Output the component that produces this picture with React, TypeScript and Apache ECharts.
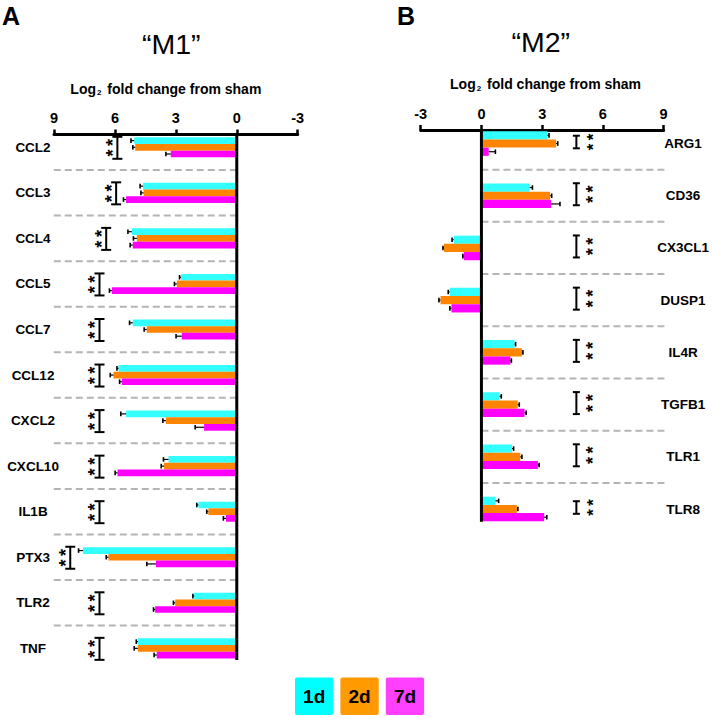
import React, { useEffect, useRef } from "react";
import * as echarts from "echarts";

// ---------- data ----------
const m1Genes = ["CCL2", "CCL3", "CCL4", "CCL5", "CCL7", "CCL12", "CXCL2", "CXCL10", "IL1B", "PTX3", "TLR2", "TNF"];
const m1Day1 = [5.05, 4.62, 5.17, 2.74, 5.12, 5.82, 5.45, 3.36, 1.89, 7.57, 2.1, 4.87];
const m1Day1Err = [0.16, 0.14, 0.19, 0.08, 0.16, 0.08, 0.26, 0.25, 0.08, 0.22, 0.06, 0.08];
const m1Day2 = [5.0, 4.59, 4.92, 2.95, 4.43, 6.07, 3.49, 3.58, 1.4, 6.32, 3.03, 4.87];
const m1Day2Err = [0.12, 0.13, 0.17, 0.12, 0.13, 0.16, 0.15, 0.14, 0.08, 0.11, 0.09, 0.18];
const m1Day7 = [3.25, 5.45, 5.12, 6.15, 2.71, 5.66, 1.61, 5.87, 0.53, 3.98, 4.02, 3.94];
const m1Day7Err = [0.24, 0.13, 0.13, 0.12, 0.28, 0.11, 0.44, 0.12, 0.13, 0.45, 0.08, 0.13];
const m1Bracket = [5.88, 5.94, 6.43, 6.76, 6.76, 6.76, 6.76, 6.76, 6.76, 8.2, 6.76, 6.76];

const m2Genes = ["ARG1", "CD36", "CX3CL1", "DUSP1", "IL4R", "TGFB1", "TLR1", "TLR8"];
const m2Day1 = [3.26, 2.38, -1.36, -1.57, 1.64, 0.9, 1.51, 0.69];
const m2Day1Err = [0.08, 0.14, 0.09, 0.07, 0.05, 0.08, 0.08, 0.16];
const m2Day2 = [3.69, 3.39, -1.85, -2.02, 2.0, 1.79, 1.92, 1.75];
const m2Day2Err = [0.08, 0.08, 0.05, 0.08, 0.05, 0.08, 0.08, 0.05];
const m2Day7 = [0.36, 3.44, -0.87, -1.48, 1.43, 2.13, 2.79, 3.1];
const m2Day7Err = [0.33, 0.44, 0.05, 0.08, 0.05, 0.08, 0.06, 0.13];
const m2Bracket = [4.69, 4.69, 4.69, 4.69, 4.69, 4.69, 4.69, 4.69];
const m2BracketTall = [0, 1, 1, 1, 1, 1, 1, 0];

const dayNames = ["1d", "2d", "7d"];
const significance = "*\u2009*";
const xMin = -3;
const xMax = 9;
const xInterval = 3;

// ---------- styles ----------
const FONT = "'Liberation Sans', Arial, Helvetica, sans-serif";
const BAR_COLORS = ["#33FFFF", "#FF8400", "#FF00FF"];
const LEGEND_COLORS = ["#00FFFF", "#FF9A00", "#FF40FF"];

function barSeries(g: number, values: number[], errs: number[], k: number, ratio: number) {
  return {
    type: "custom",
    name: dayNames[k],
    xAxisIndex: g,
    yAxisIndex: g,
    z: 2,
    data: values.map((v, i) => [v, i, errs[i]]),
    encode: { x: 0, y: 1 },
    renderItem: (params: any, api: any) => {
      const v = api.value(0);
      const row = api.value(1);
      const err = api.value(2);
      const p0 = api.coord([0, row]);
      const p1 = api.coord([v, row]);
      const rowH = Math.abs(api.size([0, 1])[1]);
      const h = rowH * ratio;
      const yc = p0[1] + (k - 1) * h;
      const sign = v >= 0 ? 1 : -1;
      const pe = api.coord([v + sign * err, row]);
      return {
        type: "group",
        children: [
          {
            type: "rect",
            shape: { x: Math.min(p0[0], p1[0]), y: yc - h / 2, width: Math.abs(p1[0] - p0[0]), height: h },
            style: { fill: BAR_COLORS[k] },
          },
          { type: "line", shape: { x1: p1[0], y1: yc, x2: pe[0], y2: yc }, style: { stroke: "#000", lineWidth: 1.2 } },
          { type: "line", shape: { x1: pe[0], y1: yc - 2.3, x2: pe[0], y2: yc + 2.3 }, style: { stroke: "#000", lineWidth: 1.6 } },
        ],
      };
    },
  };
}

function separatorSeries(g: number, n: number) {
  const rows: number[][] = [];
  for (let i = 0; i < n - 1; i++) rows.push([0, i + 0.5]);
  return {
    type: "custom",
    xAxisIndex: g,
    yAxisIndex: g,
    z: 1,
    silent: true,
    data: rows,
    encode: { x: 0, y: 1 },
    renderItem: (params: any, api: any) => {
      const r = api.value(1);
      const a = api.coord([0, r]);
      const b = api.coord([9.1, r]);
      return {
        type: "line",
        shape: { x1: a[0], y1: a[1], x2: b[0], y2: b[1] },
        style: { stroke: "#B4B4B4", lineWidth: 2, lineDash: [7, 4] },
      };
    },
  };
}

function zeroLineSeries(g: number) {
  return {
    type: "custom",
    xAxisIndex: g,
    yAxisIndex: g,
    z: 4,
    silent: true,
    data: [[0, 0]],
    encode: { x: 0, y: 1 },
    renderItem: (params: any, api: any) => {
      const cs = params.coordSys;
      const x = api.coord([0, 0])[0];
      return {
        type: "line",
        shape: { x1: x, y1: cs.y, x2: x, y2: cs.y + cs.height },
        style: { stroke: "#000", lineWidth: 3 },
      };
    },
  };
}

function bracketSeries(g: number, pos: number[], tall: number[] | null, starDx: number, capW: number, centerShift: number) {
  return {
    type: "custom",
    xAxisIndex: g,
    yAxisIndex: g,
    z: 3,
    silent: true,
    data: pos.map((p, i) => [p, i, tall ? tall[i] : 1]),
    encode: { x: 0, y: 1 },
    renderItem: (params: any, api: any) => {
      const c = api.coord([api.value(0), api.value(1)]);
      const isTall = api.value(2);
      const half = isTall ? 11 : 6.3;
      const cy = c[1] + centerShift;
      // rotated glyph sits ~5px left of its anchor
      const sx = c[0] + starDx + 5;
      return {
        type: "group",
        children: [
          { type: "line", shape: { x1: c[0], y1: cy - half, x2: c[0], y2: cy + half }, style: { stroke: "#000", lineWidth: 2 } },
          { type: "line", shape: { x1: c[0] - capW / 2, y1: cy - half, x2: c[0] + capW / 2, y2: cy - half }, style: { stroke: "#000", lineWidth: 2 } },
          { type: "line", shape: { x1: c[0] - capW / 2, y1: cy + half, x2: c[0] + capW / 2, y2: cy + half }, style: { stroke: "#000", lineWidth: 2 } },
          {
            type: "text",
            x: sx,
            y: cy,
            rotation: Math.PI / 2,
            style: {
              text: significance,
              fill: "#000",
              fontSize: isTall ? 18 : 17,
              fontWeight: "bold",
              fontFamily: FONT,
              align: "center",
              verticalAlign: "middle",
            },
          },
        ],
      };
    },
  };
}

const axisName = "{a|Log}{s|2}{a| fold change from sham}";
function axisNameStyle(shift: number) {
  return {
    padding: shift < 0 ? [0, -2 * shift, 0, 0] : [0, 0, 0, 2 * shift],
    rich: {
      a: { fontSize: 14, fontWeight: "bold", fontFamily: FONT, color: "#000", lineHeight: 16 },
      s: { fontSize: 8, fontWeight: "bold", fontFamily: FONT, color: "#000", verticalAlign: "bottom", lineHeight: 10, padding: [0, 2, 0, 1] },
    },
  };
}

function xAxisDef(g: number, inverse: boolean, nameShift: number) {
  return {
    gridIndex: g,
    type: "value",
    position: "top",
    inverse,
    min: xMin,
    max: xMax,
    interval: xInterval,
    name: axisName,
    nameLocation: "middle",
    nameGap: 38,
    nameTextStyle: axisNameStyle(nameShift),
    axisLine: { show: true, onZero: false, lineStyle: { color: "#000", width: 3 } },
    axisTick: { show: true, inside: false, length: 5, lineStyle: { color: "#000", width: 2.5 } },
    axisLabel: { fontSize: 14.5, fontWeight: "bold", fontFamily: FONT, color: "#000", margin: 9 },
    splitLine: { show: false },
  };
}

function yAxisDef(g: number, genes: string[], min: number, max: number, position: string, margin: number) {
  return {
    gridIndex: g,
    type: "value",
    inverse: true,
    min,
    max,
    position,
    axisLine: { show: false, onZero: false },
    axisTick: { show: false },
    splitLine: { show: false },
    axisLabel: {
      show: true,
      customValues: genes.map((_, i) => i),
      formatter: (v: number) => genes[Math.round(v)] ?? "",
      fontSize: 13.5,
      fontWeight: "bold",
      fontFamily: FONT,
      color: "#000",
      align: "center",
      margin,
    },
  };
}

export default function App() {
  const ref = useRef<HTMLDivElement>(null);
  useEffect(() => {
    if (!ref.current) return;
    const chart = echarts.init(ref.current, undefined, { renderer: "svg" });
    const legend = dayNames.map((d, k) => ({
      type: "group",
      x: 295 + k * 45.4,
      y: 677.5,
      children: [
        { type: "rect", shape: { x: 0, y: 0, width: 38.3, height: 37.5, r: 2 }, style: { fill: LEGEND_COLORS[k] } },
        {
          type: "text",
          x: 19.2,
          y: 18.8,
          style: { text: d, fill: "#000", fontSize: 19, fontWeight: "bold", fontFamily: FONT, align: "center", verticalAlign: "middle" },
        },
      ],
    }));
    const titles = [
      { type: "text", x: 2, y: 16, style: { text: "A", fill: "#000", fontSize: 25, fontWeight: "bold", fontFamily: FONT, align: "left", verticalAlign: "middle" } },
      { type: "text", x: 397, y: 15.5, style: { text: "B", fill: "#000", fontSize: 25, fontWeight: "bold", fontFamily: FONT, align: "left", verticalAlign: "middle" } },
      { type: "text", x: 171.2, y: 43.7, style: { text: "\u201CM1\u201D", fill: "#000", fontSize: 28.5, fontFamily: FONT, align: "center", verticalAlign: "middle" } },
      { type: "text", x: 540.8, y: 41.7, style: { text: "\u201CM2\u201D", fill: "#000", fontSize: 28.5, fontFamily: FONT, align: "center", verticalAlign: "middle" } },
    ];
    chart.setOption({
      animation: false,
      backgroundColor: "#fff",
      grid: [
        { left: 54, top: 134.5, width: 243.7, height: 525.5, containLabel: false },
        { left: 420.7, top: 130, width: 244.3, height: 391.7, containLabel: false },
      ],
      xAxis: [xAxisDef(0, true, -10), xAxisDef(1, false, 3.4)],
      yAxis: [
        yAxisDef(0, m1Genes, -0.281, 11.256, "left", 21),
        yAxisDef(1, m2Genes, -0.259, 7.243, "right", 19.5),
      ],
      graphic: [...titles, ...legend],
      series: [
        separatorSeries(0, m1Genes.length),
        barSeries(0, m1Day1, m1Day1Err, 0, 0.147),
        barSeries(0, m1Day2, m1Day2Err, 1, 0.147),
        barSeries(0, m1Day7, m1Day7Err, 2, 0.147),
        zeroLineSeries(0),
        bracketSeries(0, m1Bracket, null, -9, 10, 0.5),
        separatorSeries(1, m2Genes.length),
        barSeries(1, m2Day1, m2Day1Err, 0, 0.157),
        barSeries(1, m2Day2, m2Day2Err, 1, 0.157),
        barSeries(1, m2Day7, m2Day7Err, 2, 0.157),
        zeroLineSeries(1),
        bracketSeries(1, m2Bracket, m2BracketTall, 12, 7, -1.5),
      ],
    });
    return () => chart.dispose();
  }, []);
  return <div ref={ref} style={{ position: "absolute", left: 0, top: 0, width: 712, height: 717 }} />;
}
